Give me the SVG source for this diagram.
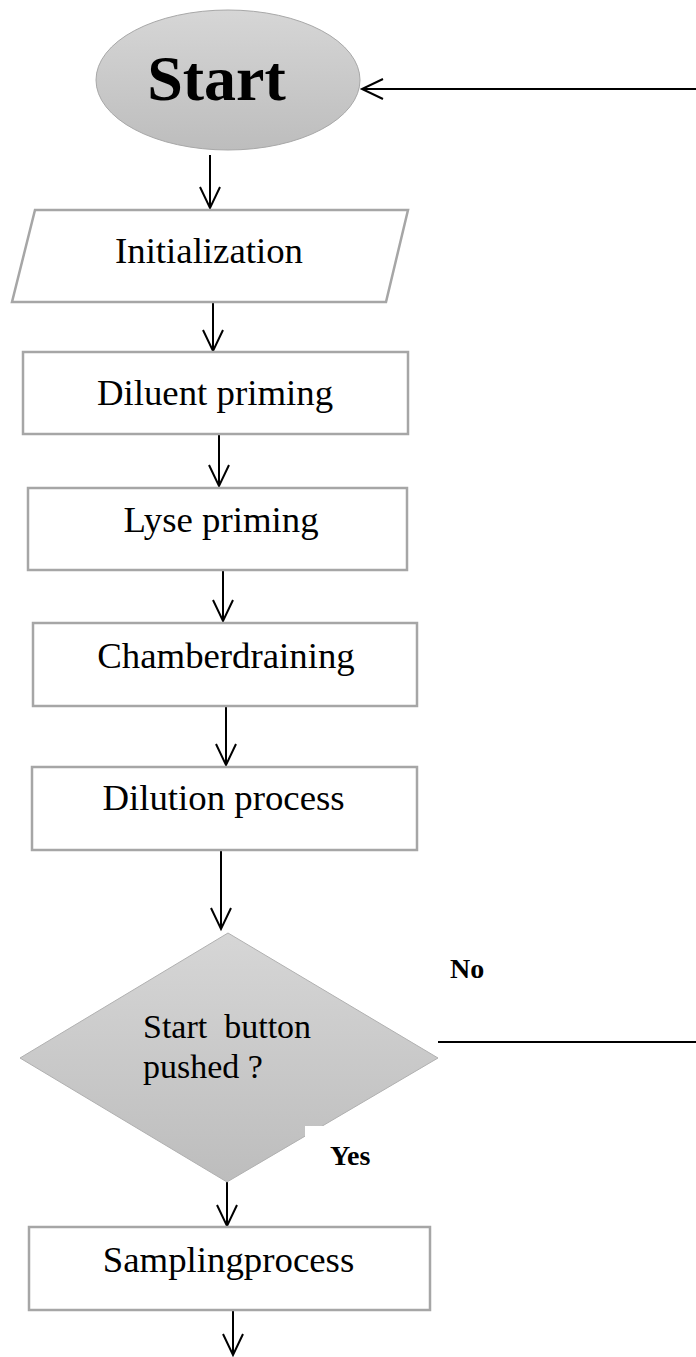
<svg xmlns="http://www.w3.org/2000/svg" width="696" height="1357" viewBox="0 0 696 1357">
  <style>
    .box { fill: #ffffff; stroke: #a6a6a6; stroke-width: 2.5; }
    .lbl { font-family: "Liberation Serif", "Times New Roman", serif; font-size: 36.8px; fill: #000; text-anchor: middle; }
    .dlbl { font-family: "Liberation Serif", "Times New Roman", serif; font-size: 34px; fill: #000; }
    .bold { font-family: "Liberation Serif", "Times New Roman", serif; font-weight: bold; fill: #000; }
    .wire { fill: none; stroke: #000; stroke-width: 2; }
  </style>
  <defs>
    <linearGradient id="grey" x1="0" y1="0" x2="0" y2="1">
      <stop offset="0" stop-color="#d6d6d6"/>
      <stop offset="1" stop-color="#bdbdbd"/>
    </linearGradient>
    <marker id="arr" markerUnits="userSpaceOnUse" markerWidth="44" markerHeight="44" viewBox="-22 -22 44 44" refX="0" refY="0" orient="auto">
      <path d="M-21,-10 L0,0 L-21,10" fill="none" stroke="#000" stroke-width="2"/>
    </marker>
  </defs>

  <rect width="696" height="1357" fill="#ffffff"/>

  <g id="connectors">
    <line class="wire" x1="210" y1="155" x2="210" y2="208" marker-end="url(#arr)"/>
    <line class="wire" x1="213" y1="302" x2="213" y2="351" marker-end="url(#arr)"/>
    <line class="wire" x1="219" y1="434" x2="219" y2="486" marker-end="url(#arr)"/>
    <line class="wire" x1="223" y1="570" x2="223" y2="621" marker-end="url(#arr)"/>
    <line class="wire" x1="226" y1="706" x2="226" y2="765" marker-end="url(#arr)"/>
    <line class="wire" x1="221" y1="850" x2="221" y2="929" marker-end="url(#arr)"/>
    <line class="wire" x1="227" y1="1182" x2="227" y2="1226" marker-end="url(#arr)"/>
    <line class="wire" x1="233" y1="1310" x2="233" y2="1355" marker-end="url(#arr)"/>
    <line class="wire" x1="438" y1="1042" x2="696" y2="1042"/>
    <line class="wire" x1="696" y1="89" x2="362" y2="89" marker-end="url(#arr)"/>
  </g>

  <g id="start">
    <ellipse cx="228" cy="80" rx="132" ry="70" fill="url(#grey)" stroke="#a8a8a8" stroke-width="1"/>
    <text class="bold" x="216.5" y="100" font-size="64" text-anchor="middle">Start</text>
  </g>

  <g id="initialization">
    <polygon class="box" points="35,210 408,210 386,302 12,302"/>
    <text class="lbl" x="209" y="263">Initialization</text>
  </g>

  <g id="diluent-priming">
    <rect class="box" x="23" y="352" width="385" height="82"/>
    <text class="lbl" x="215" y="405">Diluent priming</text>
  </g>

  <g id="lyse-priming">
    <rect class="box" x="28" y="488" width="379" height="82"/>
    <text class="lbl" x="221" y="532">Lyse priming</text>
  </g>

  <g id="chamber-draining">
    <rect class="box" x="33" y="623" width="384" height="83"/>
    <text class="lbl" x="226" y="668">Chamberdraining</text>
  </g>

  <g id="dilution-process">
    <rect class="box" x="32" y="767" width="385" height="83"/>
    <text class="lbl" x="223.5" y="810">Dilution process</text>
  </g>

  <g id="decision">
    <polygon points="228,933 438,1058 227,1182 20,1058" fill="url(#grey)" stroke="#b0b0b0" stroke-width="1"/>
    <text class="dlbl" x="143" y="1038" xml:space="preserve">Start  button</text>
    <text class="dlbl" x="143" y="1078">pushed ?</text>
  </g>

  <g id="label-no">
    <text class="bold" x="450" y="978" font-size="28">No</text>
  </g>

  <g id="label-yes">
    <rect x="305" y="1126" width="80" height="44" fill="#ffffff"/>
    <text class="bold" x="330" y="1165" font-size="28">Yes</text>
  </g>

  <g id="sampling-process">
    <rect class="box" x="29" y="1227" width="401" height="83"/>
    <text class="lbl" x="228.5" y="1272">Samplingprocess</text>
  </g>
</svg>
